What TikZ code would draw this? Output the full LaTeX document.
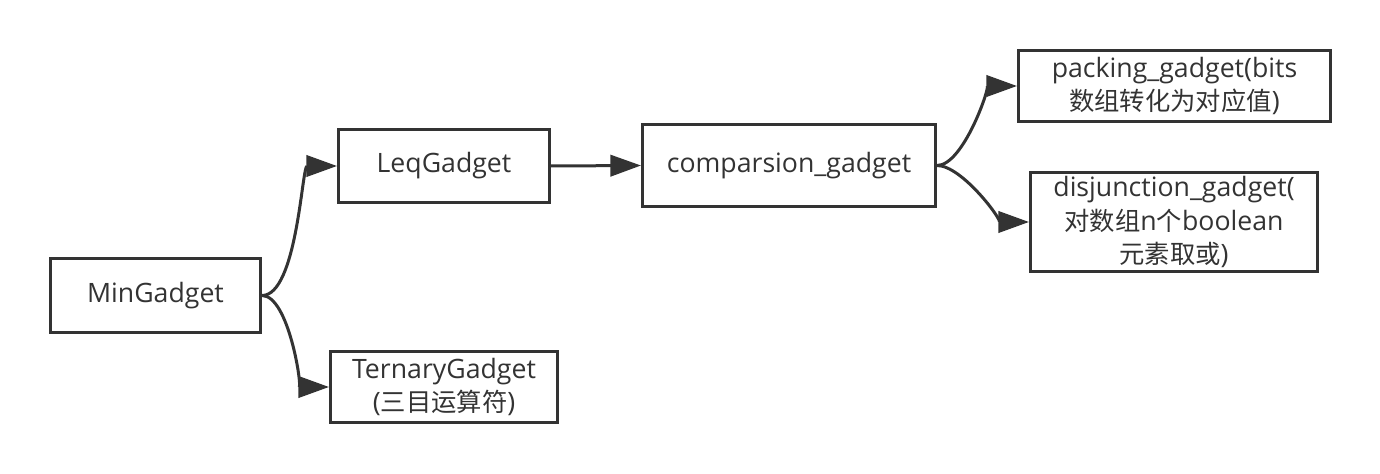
\documentclass[tikz,border=0pt]{standalone}
\usepackage{fontspec}
\setmainfont{Open Sans}
\newfontfamily\cjk[Scale=0.95]{Noto Sans CJK SC}
\usetikzlibrary{arrows.meta,positioning}
\definecolor{ink}{HTML}{333333}
\tikzset{
  gadget/.style={draw=ink, line width=2.25pt, text=ink, align=center, inner sep=1pt,
    font=\fontsize{20pt}{25pt}\selectfont},
  link/.style={draw=ink, line width=2.25pt, -{Triangle[length=23pt,width=16pt]}}
}
\begin{document}
\begin{tikzpicture}[x=0.75pt,y=-0.75pt]
  \useasboundingbox (0,0) rectangle (1380,474);
  \node[gadget, minimum width=157.5pt, minimum height=55.5pt] (min) at (155.5,295.5) {MinGadget};
  \node[gadget, minimum width=158.25pt, minimum height=54.75pt] (leq) at (444,166) {LeqGadget};
  \node[gadget, minimum width=170.25pt, minimum height=53.25pt] (ternary) at (444,387) {TernaryGadget\\({\cjk 三目运算符})};
  \node[gadget, minimum width=219.75pt, minimum height=61.5pt] (comp) at (789,165.5) {comparsion\_gadget};
  \node[gadget, minimum width=234pt, minimum height=53.25pt] (packing) at (1174.5,86) {packing\_gadget(bits\\{\cjk 数组转化为对应值})};
  \node[gadget, minimum width=215.25pt, minimum height=74.25pt] (disj) at (1174,222) {disjunction\_gadget(\\{\cjk 对数组}n{\cjk 个}boolean\\{\cjk 元素取或})};
  \draw[link] (min.east) to[out=0,in=180,looseness=0.6] (leq.west);
  \draw[link] (min.east) to[out=0,in=180,looseness=0.6] (ternary.west);
  \draw[link] (leq.east) -- (comp.west);
  \draw[link] (comp.east) to[out=0,in=180,looseness=0.6] (packing.west);
  \draw[link] (comp.east) to[out=0,in=180,looseness=0.6] (disj.west);
\end{tikzpicture}
\end{document}
